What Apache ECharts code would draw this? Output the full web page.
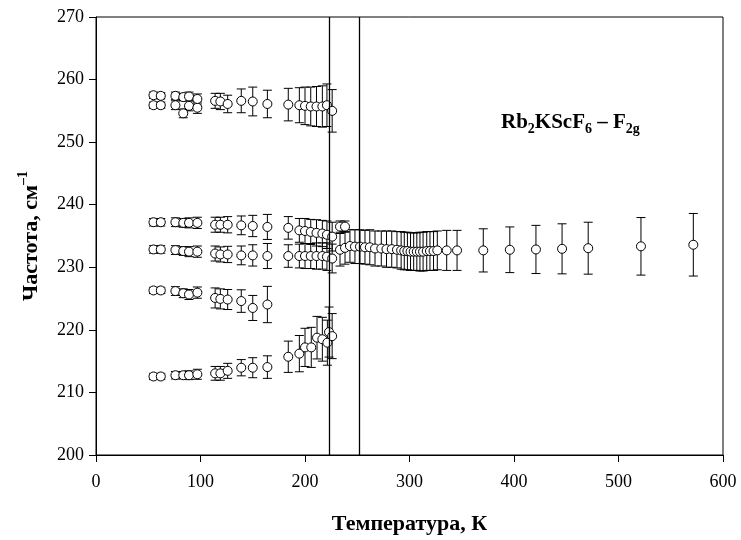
<!DOCTYPE html>
<html>
<head>
<meta charset="utf-8">
<script src="https://cdn.jsdelivr.net/npm/echarts@6/dist/echarts.min.js"></script>
<style>html,body{margin:0;padding:0;background:#fff}#c{width:741px;height:540px}</style>
</head>
<body>
<div id="c"></div>
<script>
// ---------- data ----------
const xTicks = [0, 100, 200, 300, 400, 500, 600];
const yTicks = [200, 210, 220, 230, 240, 250, 260, 270];
const transitionT = [223.3, 252];

const tempsLow = [55, 62, 76, 83.5, 89, 97, 114, 119, 126, 139, 150, 164, 184, 194.6, 200, 205.5, 211, 216.6, 221, 226];
const mode1 = [255.9, 255.9, 255.9, 254.6, 255.8, 255.5, 256.6, 256.5, 256.1, 256.6, 256.5, 256.1, 256.0, 255.9, 255.8, 255.7, 255.7, 255.7, 255.9, 255.0];
const err1 = [0.5, 0.5, 0.7, 0.7, 0.8, 0.9, 1.2, 1.3, 1.4, 1.9, 2.3, 2.2, 2.6, 2.8, 3.0, 3.1, 3.2, 3.3, 3.4, 3.4];

const tempsMode1b = [55, 62, 76, 83.5, 89, 97];
const mode1b = [257.5, 257.4, 257.4, 257.2, 257.3, 256.9];
const err1b = [0.5, 0.5, 0.6, 0.6, 0.7, 0.8];

const mode2 = [237.2, 237.2, 237.2, 237.1, 237.1, 237.1, 236.8, 236.8, 236.8, 236.7, 236.6, 236.45, 236.3, 235.9, 235.8, 235.65, 235.5, 235.4, 235.2, 234.9];
const mode3 = [232.85, 232.85, 232.75, 232.6, 232.5, 232.5, 232.2, 232.05, 232.05, 231.9, 231.9, 231.8, 231.8, 231.8, 231.8, 231.8, 231.8, 231.8, 231.7, 231.4];
const err23 = [0.6, 0.6, 0.7, 0.7, 0.8, 0.9, 1.2, 1.2, 1.3, 1.5, 1.7, 2.0, 1.8, 1.9, 2.0, 2.0, 2.1, 2.1, 2.2, 2.3];

const tempsMode2b = [233.5, 238.3];
const mode2b = [236.5, 236.5];
const err2b = [0.9, 0.9];

const tempsMode4 = [55, 62, 76, 83.5, 89, 97, 114, 119, 126, 139, 150, 164];
const mode4 = [226.3, 226.3, 226.2, 225.85, 225.65, 225.95, 225.1, 224.95, 224.85, 224.6, 223.5, 224.05];
const err4 = [0.5, 0.5, 0.7, 0.7, 0.8, 0.9, 1.6, 1.6, 1.6, 1.8, 2.0, 2.9];

const tempsMode5 = [55, 62, 76, 83.5, 89, 97, 114, 119, 126, 139, 150, 164, 184, 194.6, 200, 206, 211.5, 216.6, 221.4, 223, 226];
const mode5 = [212.55, 212.55, 212.75, 212.75, 212.75, 212.9, 213.05, 213.05, 213.45, 213.95, 213.95, 214.05, 215.7, 216.2, 217.2, 217.2, 218.75, 218.5, 217.95, 219.65, 219.0];
const err5 = [0.5, 0.5, 0.6, 0.6, 0.7, 0.8, 1.1, 1.1, 1.2, 1.3, 1.6, 1.8, 2.5, 2.9, 3.05, 3.2, 3.4, 3.5, 3.6, 4.0, 3.6];

const tempsHigh = [233.5, 238.3, 243, 247.8, 252.6, 257.4, 262, 267, 273, 278, 283, 288, 292, 295, 298, 301, 304, 307, 310, 313, 316.5, 319.6, 323, 326.6, 335.6, 345.5, 370.6, 396, 421, 446, 471, 521.5, 571.6];
const modeHigh = [232.8, 233.1, 233.4, 233.3, 233.3, 233.2, 233.2, 233.0, 233.0, 232.9, 232.9, 232.8, 232.7, 232.6, 232.6, 232.5, 232.5, 232.5, 232.5, 232.5, 232.6, 232.6, 232.6, 232.7, 232.7, 232.7, 232.7, 232.8, 232.85, 232.95, 233.05, 233.35, 233.6];
const errHigh = [2.6, 2.6, 2.6, 2.7, 2.7, 2.7, 2.8, 2.8, 2.8, 2.9, 2.9, 2.9, 3.0, 3.0, 3.0, 3.0, 3.0, 3.0, 3.1, 3.1, 3.1, 3.1, 3.1, 3.1, 3.2, 3.2, 3.45, 3.65, 3.85, 4.0, 4.15, 4.6, 5.0];

const groups = [
  [tempsLow, mode1, err1],
  [tempsMode1b, mode1b, err1b],
  [tempsLow, mode2, err23],
  [tempsLow, mode3, err23],
  [tempsMode2b, mode2b, err2b],
  [tempsMode4, mode4, err4],
  [tempsMode5, mode5, err5],
  [tempsHigh, modeHigh, errHigh]
];

// ---------- chart ----------
const FONT = '"Liberation Serif", "Times New Roman", serif';
const chart = echarts.init(document.getElementById('c'), null, {renderer: 'canvas'});

function errorSeries(xs, ys, es) {
  return {
    type: 'custom',
    silent: true,
    z: 2,
    data: xs.map((x, i) => [x, ys[i] - es[i], ys[i] + es[i]]),
    encode: {x: 0, y: [1, 2]},
    renderItem: function (params, api) {
      const x = api.value(0);
      const lo = api.coord([x, api.value(1)]);
      const hi = api.coord([x, api.value(2)]);
      const w = 4.5;
      const st = {stroke: '#000', lineWidth: 1};
      return {
        type: 'group',
        children: [
          {type: 'line', shape: {x1: lo[0], y1: lo[1], x2: hi[0], y2: hi[1]}, style: st},
          {type: 'line', shape: {x1: lo[0] - w, y1: lo[1], x2: lo[0] + w, y2: lo[1]}, style: st},
          {type: 'line', shape: {x1: hi[0] - w, y1: hi[1], x2: hi[0] + w, y2: hi[1]}, style: st}
        ]
      };
    }
  };
}

function pointSeries(xs, ys) {
  return {
    type: 'scatter',
    z: 3,
    symbol: 'circle',
    symbolSize: 9,
    silent: true,
    itemStyle: {color: '#fff', borderColor: '#000', borderWidth: 1, opacity: 1},
    data: xs.map((x, i) => [x, ys[i]])
  };
}

const series = [];
groups.forEach(g => series.push(errorSeries(g[0], g[1], g[2])));
groups.forEach(g => series.push(pointSeries(g[0], g[1])));
series.push({
  type: 'line',
  data: [],
  markLine: {
    silent: true,
    symbol: 'none',
    label: {show: false},
    lineStyle: {color: '#000', type: 'solid', width: 1.3},
    data: transitionT.map(t => ({xAxis: t}))
  }
});

chart.setOption({
  animation: false,
  backgroundColor: '#fff',
  grid: {left: 96, right: 18, top: 17, bottom: 84, show: true, borderColor: '#000', borderWidth: 1, backgroundColor: 'transparent'},
  xAxis: {
    type: 'value', min: xTicks[0], max: xTicks[xTicks.length - 1], interval: 100,
    axisLine: {show: true, lineStyle: {color: '#000', width: 1}},
    axisTick: {show: true, inside: false, length: 7, lineStyle: {color: '#000'}},
    axisLabel: {color: '#000', fontFamily: FONT, fontSize: 18, margin: 18},
    splitLine: {show: false},
    name: 'Температура, К',
    nameLocation: 'middle',
    nameGap: 58,
    nameTextStyle: {color: '#000', fontFamily: FONT, fontSize: 22, fontWeight: 'bold'}
  },
  yAxis: {
    type: 'value', min: yTicks[0], max: yTicks[yTicks.length - 1], interval: 10,
    axisLine: {show: true, lineStyle: {color: '#000', width: 1}},
    axisTick: {show: true, inside: false, length: 7, lineStyle: {color: '#000'}},
    axisLabel: {color: '#000', fontFamily: FONT, fontSize: 18, margin: 12},
    splitLine: {show: false},
    name: '{m|Частота, см}{sup|–1}',
    nameLocation: 'middle',
    nameRotate: 90,
    nameGap: 52,
    nameTextStyle: {
      color: '#000', fontFamily: FONT, fontSize: 22, fontWeight: 'bold',
      rich: {
        m: {fontFamily: FONT, fontSize: 22, fontWeight: 'bold', color: '#000', lineHeight: 26},
        sup: {fontFamily: FONT, fontSize: 14, fontWeight: 'bold', color: '#000', lineHeight: 14, padding: [0, 0, 16, 0]}
      }
    }
  },
  graphic: [{
    type: 'text',
    left: 501,
    top: 110,
    silent: true,
    style: {
      text: '{m|Rb}{s|2}{m|KScF}{s|6}{m| – F}{s|2g}',
      fill: '#000',
      rich: {
        m: {fontFamily: FONT, fontSize: 21, fontWeight: 'bold', fill: '#000', lineHeight: 24},
        s: {fontFamily: FONT, fontSize: 14, fontWeight: 'bold', fill: '#000', lineHeight: 14, padding: [12, 0, 0, 0]}
      }
    }
  }],
  series: series
});
</script>
</body>
</html>
